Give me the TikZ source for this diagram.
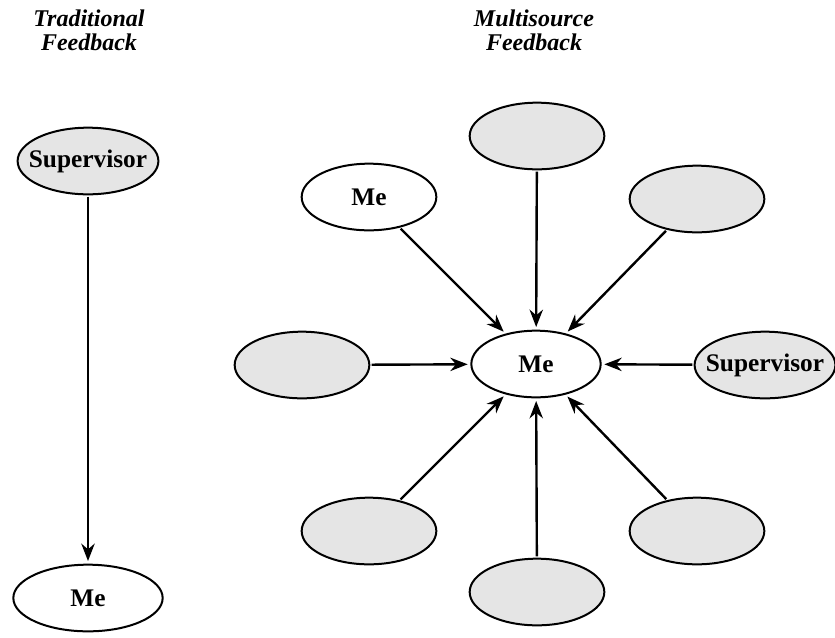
\documentclass[tikz,border=0pt]{standalone}
\usepackage{fontspec}
\setmainfont{Liberation Serif}
\usetikzlibrary{arrows.meta,shapes.geometric}

\begin{document}
\begin{tikzpicture}[x=0.75pt, y=-0.75pt, >={Stealth[length=13pt,width=10pt]},
    src/.style={ellipse, draw, line width=1.5pt, minimum width=101pt, minimum height=50pt,
                inner sep=0pt, font=\fontsize{19}{22}\selectfont\bfseries},
    gsrc/.style={src, fill=gray!20},
    wide/.style={inner xsep=-7pt},
    arr/.style={->, line width=1.8pt, shorten <=1pt, shorten >=2pt},
    ttl/.style={align=center, font=\fontsize{18}{18}\selectfont\bfseries\itshape}]
    \useasboundingbox (0,0) rectangle (835,637);

    % traditional
    \node[ttl] (ttrad) at (89,30) {Traditional\\Feedback};
    \node[gsrc, wide, minimum width=105pt] (sup) at (88,161) {Supervisor};
    \node[src, minimum width=112pt] (meold) at (88,598) {Me};
    \draw[arr] (sup) -- (meold);

    % multisource
    \node[ttl] (tmulti) at (534,30) {Multisource\\Feedback};
    \node[src, minimum width=97pt] (me) at (536,364) {Me};
    \node[gsrc] (top) at (537,136) {};
    \node[src] (meself) at (369,197) {Me};
    \node[gsrc] (topr) at (697,199) {};
    \node[gsrc] (lft) at (302,365) {};
    \node[gsrc, wide] (supr) at (765,365) {Supervisor};
    \node[gsrc] (botl) at (369,531) {};
    \node[gsrc] (botr) at (697,531) {};
    \node[gsrc] (bot) at (537,592) {};

    % arrows into Me
    \foreach \n in {top, meself, topr, lft, supr, botl, botr, bot} {
        \draw[arr] (\n) -- (me);
    }
\end{tikzpicture}
\end{document}
